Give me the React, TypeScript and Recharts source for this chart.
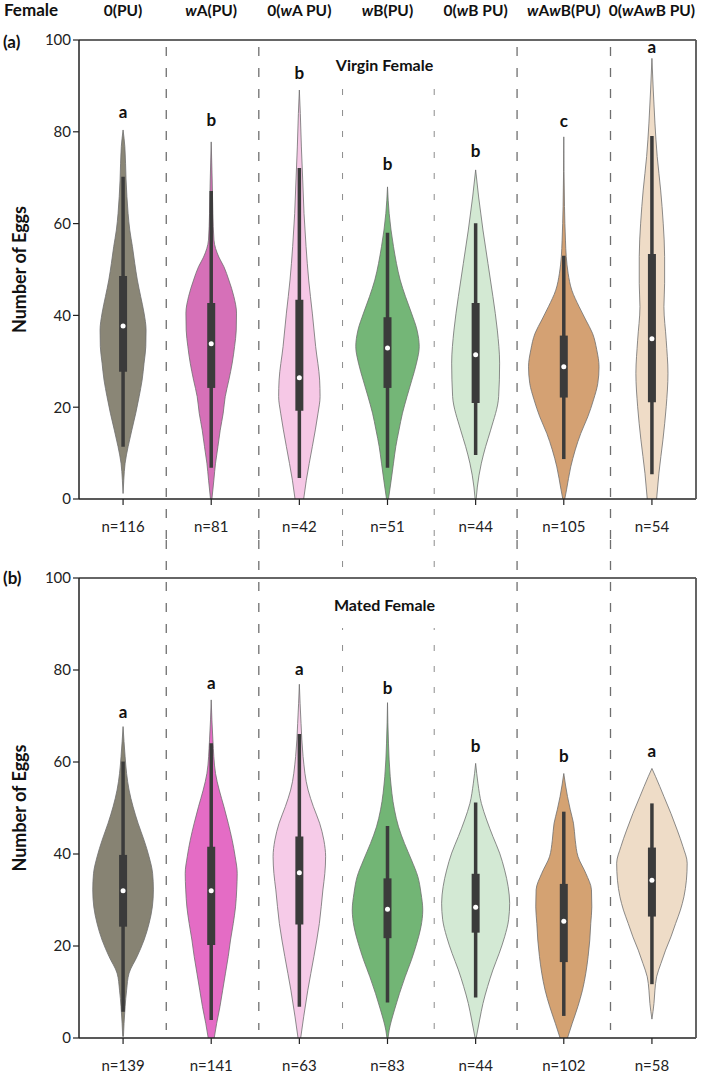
import React from 'react'
import { ComposedChart, Area, Line, Scatter, XAxis, YAxis, ReferenceLine } from 'recharts'

const FONT = 'Lato, "Open Sans", sans-serif'

const groups = ['0(PU)', 'wA(PU)', '0(wA PU)', 'wB(PU)', '0(wB PU)', 'wAwB(PU)', '0(wAwB PU)']
const centers = [0.5, 1.5, 2.5, 3.5, 4.5, 5.5, 6.5]
const yTicks = [0, 20, 40, 60, 80, 100]
const majorDividers = [0.99, 2.04, 4.97, 6.03]
const minorDividers = [2.99, 4.03]

const virginN = [116, 81, 42, 51, 44, 105, 54]
const matedN = [139, 141, 63, 83, 44, 102, 58]

const virginLetters = ['a', 'b', 'b', 'b', 'b', 'c', 'a']
const virginLetterY = [84.5, 82.6, 93, 73, 76, 82.4, 98.5]
const matedLetters = ['a', 'a', 'a', 'b', 'b', 'b', 'a']
const matedLetterY = [70.9, 77.2, 80.4, 76.1, 63.5, 61.5, 62.4]

// [lower whisker, q1, median, q3, upper whisker]
const virginBoxes = [
  [11.4, 27.7, 37.7, 48.6, 70.2],
  [6.8, 24.2, 33.8, 42.7, 67.1],
  [4.6, 19.2, 26.4, 43.4, 72.1],
  [6.8, 24.2, 32.9, 39.6, 58],
  [9.6, 20.9, 31.4, 42.7, 60.1],
  [8.7, 22.1, 28.8, 35.6, 53],
  [5.4, 21.1, 34.9, 53.4, 79.1],
]
const matedBoxes = [
  [5.7, 24.2, 32, 39.8, 60.1],
  [3.9, 20.2, 32, 41.6, 64.1],
  [6.8, 24.7, 35.9, 43.8, 66.1],
  [7.7, 21.7, 28, 34.7, 46.1],
  [8.8, 22.9, 28.4, 35.7, 51.2],
  [4.8, 16.5, 25.4, 33.5, 49.2],
  [11.7, 26.4, 34.3, 41.4, 51],
]

// violin outlines: [eggs, half width in category units]
const virginProfiles: [number, number][][] = [
  [[80.4, 0], [76.8, 0.02], [69.5, 0.034], [62.2, 0.057], [58.6, 0.076], [55, 0.106], [51.3, 0.133], [47.7, 0.162], [44.1, 0.2], [40.5, 0.238], [36.8, 0.261], [33.2, 0.258], [29.6, 0.238], [25.9, 0.216], [22.3, 0.182], [18.7, 0.144], [15, 0.099], [11.4, 0.057], [7.8, 0.023], [4.1, 0.008], [1.2, 0]],
  [[77.8, 0], [69.5, 0.011], [62.2, 0.019], [56.4, 0.031], [52.7, 0.087], [50.6, 0.144], [47.7, 0.2], [44.1, 0.257], [40.5, 0.287], [36.8, 0.284], [33.2, 0.265], [29.6, 0.238], [25.9, 0.2], [22.3, 0.159], [18.7, 0.136], [15, 0.102], [11.4, 0.076], [7.8, 0.049], [4.1, 0.03], [0, 0.008]],
  [[89.1, 0], [84, 0.011], [76.7, 0.023], [69.5, 0.038], [62.2, 0.053], [55, 0.076], [47.7, 0.106], [40.5, 0.147], [33.2, 0.185], [25.9, 0.23], [22.3, 0.235], [18.7, 0.212], [11.4, 0.147], [4.1, 0.079], [0, 0.049]],
  [[68, 0], [62.2, 0.019], [58.6, 0.04], [55, 0.068], [51.3, 0.102], [47.7, 0.144], [44.1, 0.204], [40.5, 0.272], [36.8, 0.335], [33.2, 0.36], [29.6, 0.329], [25.9, 0.276], [22.3, 0.221], [18.7, 0.17], [15, 0.13], [11.4, 0.094], [7.8, 0.068], [4.1, 0.042], [0, 0.011]],
  [[71.7, 0], [65.8, 0.034], [58.6, 0.083], [51.3, 0.14], [44.1, 0.196], [36.8, 0.246], [29.6, 0.272], [22.3, 0.261], [15, 0.17], [11.4, 0.113], [7.8, 0.065], [2.6, 0.019], [0, 0.006]],
  [[78.9, 0], [63.7, 0.008], [56.4, 0.019], [52.8, 0.028], [49.2, 0.049], [45.5, 0.091], [41.9, 0.174], [39, 0.25], [36.1, 0.326], [32.5, 0.374], [28.8, 0.4], [25.2, 0.386], [21.6, 0.337], [17.9, 0.272], [14.3, 0.193], [10.7, 0.13], [7, 0.079], [2, 0.031], [0, 0.011]],
  [[96, 0], [89.1, 0.015], [81.9, 0.034], [74.6, 0.06], [67.3, 0.099], [60.1, 0.128], [52.8, 0.144], [47, 0.144], [41.9, 0.136], [34.6, 0.162], [27.4, 0.182], [20.1, 0.162], [12.9, 0.125], [5.6, 0.079], [0, 0.053]],
]
const matedProfiles: [number, number][][] = [
  [[67.7, 0], [61.2, 0.023], [57.5, 0.04], [53.9, 0.068], [50.3, 0.113], [46.7, 0.17], [43, 0.238], [39.4, 0.295], [35.8, 0.335], [32.2, 0.344], [28.5, 0.332], [24.9, 0.295], [21.3, 0.238], [17.7, 0.159], [14.1, 0.068], [10.4, 0.04], [6.8, 0.023], [3.2, 0.011], [0.3, 0.004]],
  [[73.5, 0], [64.8, 0.019], [57.5, 0.049], [53.9, 0.091], [50.3, 0.144], [46.7, 0.193], [43, 0.238], [39.4, 0.272], [35.8, 0.295], [32.2, 0.289], [28.5, 0.276], [24.9, 0.25], [21.3, 0.219], [17.7, 0.193], [14.1, 0.162], [10.4, 0.13], [6.8, 0.099], [3.2, 0.062], [0, 0.034]],
  [[76.9, 0], [68.4, 0.019], [61.2, 0.042], [53.9, 0.099], [50.3, 0.159], [46.7, 0.23], [43, 0.278], [39.4, 0.298], [35.8, 0.289], [32.2, 0.267], [24.9, 0.227], [17.7, 0.165], [10.4, 0.096], [4.6, 0.049], [0, 0.015]],
  [[72.9, 0], [64.1, 0.011], [56.8, 0.031], [49.6, 0.079], [45.9, 0.125], [42.3, 0.193], [38.7, 0.272], [35.1, 0.344], [31.5, 0.38], [27.8, 0.4], [24.2, 0.38], [20.6, 0.332], [17, 0.272], [13.3, 0.2], [9.7, 0.136], [6.1, 0.079], [1.7, 0.019], [0, 0.006]],
  [[59.7, 0], [55.4, 0.026], [51, 0.065], [47.4, 0.125], [43.8, 0.196], [40.2, 0.272], [36.5, 0.329], [32.9, 0.369], [29.3, 0.386], [25.7, 0.374], [22, 0.329], [18.4, 0.267], [14.8, 0.196], [11.2, 0.136], [7.5, 0.083], [3.9, 0.045], [0, 0.006]],
  [[57.5, 0], [52.5, 0.042], [49.6, 0.074], [46.7, 0.11], [43, 0.13], [39.4, 0.162], [35.8, 0.25], [32.2, 0.314], [28.5, 0.318], [24.9, 0.306], [21.3, 0.295], [17.7, 0.276], [14.1, 0.25], [10.4, 0.212], [6.8, 0.159], [3.2, 0.096], [0, 0.042]],
  [[58.6, 0], [56.8, 0.042], [52.5, 0.136], [48.8, 0.216], [45.2, 0.287], [41.6, 0.352], [38, 0.4], [34.3, 0.391], [30.7, 0.363], [27.8, 0.323], [24.9, 0.269], [22, 0.216], [19.1, 0.155], [16.2, 0.102], [13.3, 0.053], [10.4, 0.034], [7.5, 0.023], [4.1, 0]],
]

const virginColors = ['#8a8676', '#d670b8', '#f6c8e6', '#74b677', '#d3e9d3', '#d4a173', '#efdcc7']
const matedColors = ['#878373', '#e46cc5', '#f6cbe8', '#72b575', '#d3e9d4', '#d4a272', '#eedcc7']

function HeaderTick({ x, y, payload }: any) {
  const label = groups[Math.round(payload.value - 0.5)] || ''
  const parts = label.split(/(w)/).filter((s) => s !== '')
  return (
    <text x={x} y={y} textAnchor="middle" fontFamily={FONT} fontWeight={700} fontSize={15.5} fill="#111">
      {parts.map((s, k) =>
        s === 'w' ? (
          <tspan key={k} fontStyle="italic">w</tspan>
        ) : (
          <tspan key={k}>{s}</tspan>
        )
      )}
    </text>
  )
}

type PanelProps = {
  profiles: [number, number][][]
  boxes: number[][]
  nLabels: number[]
  letters: string[]
  letterY: number[]
  colors: string[]
  header: boolean
}

function ViolinPanel({ profiles, boxes, nLabels, letters, letterY, colors, header }: PanelProps) {
  const height = header ? 545 : 536
  const topH = header ? 40 : 38
  const bottomH = header ? 46 : 38
  const violins = profiles.map((p, i) =>
    [...p]
      .sort((a, b) => b[0] - a[0])
      .map(([v, w]) => ({ v, range: [centers[i] - w, centers[i] + w] }))
  )
  const whiskers = boxes.map((b, i) => [
    { x: centers[i], v: b[4] },
    { x: centers[i], v: b[0] },
  ])
  const iqr = boxes.map((b, i) => [
    { x: centers[i], v: b[3] },
    { x: centers[i], v: b[1] },
  ])
  const medians = boxes.map((b, i) => ({ x: centers[i], v: b[2] }))
  const letterData = letters.map((l, i) => ({ x: centers[i], v: letterY[i], label: l }))

  const dividerShape = (color: string, dash: string, width: number) => (p: any) => {
    const top = Math.min(p.y1, p.y2)
    const bottom = Math.max(p.y1, p.y2)
    const y1 = header ? top + 7 : top - topH
    const y2 = header ? bottom + bottomH : bottom - 8
    return <line x1={p.x1} x2={p.x2} y1={y1} y2={y2} stroke={color} strokeWidth={width} strokeDasharray={dash} />
  }

  return (
    <ComposedChart
      width={709}
      height={height}
      layout="vertical"
      margin={{ top: 0, right: 0, bottom: 0, left: 0 }}
    >
      <XAxis
        xAxisId="top"
        orientation="top"
        type="number"
        domain={[0, 7]}
        allowDataOverflow
        ticks={centers}
        height={topH}
        tickSize={0}
        tickMargin={24}
        tickLine={false}
        tick={header ? <HeaderTick /> : false}
        axisLine={{ stroke: '#333', strokeWidth: 1.5 }}
      />
      <XAxis
        type="number"
        dataKey="x"
        domain={[0, 7]}
        allowDataOverflow
        ticks={centers}
        height={bottomH}
        tickSize={6}
        tickMargin={16}
        tickFormatter={(value: number) => `n=${nLabels[Math.round(value - 0.5)]}`}
        tick={{ fill: '#222', fontSize: 15, fontFamily: FONT }}
        tickLine={{ stroke: '#222', strokeWidth: 1.2 }}
        axisLine={{ stroke: '#222', strokeWidth: 1.5 }}
      />
      <YAxis
        type="number"
        dataKey="v"
        domain={[0, 100]}
        allowDataOverflow
        reversed
        ticks={yTicks}
        width={79}
        tickSize={6}
        tickMargin={2}
        tick={{ fill: '#222', fontSize: 15, fontFamily: FONT }}
        tickLine={{ stroke: '#222', strokeWidth: 1.2 }}
        axisLine={{ stroke: '#222', strokeWidth: 1.5 }}
        label={{
          value: 'Number of Eggs',
          angle: -90,
          position: 'insideLeft',
          offset: 20,
          style: { textAnchor: 'middle', fontWeight: 700, fontSize: 18, fill: '#111', fontFamily: FONT },
        }}
      />
      <YAxis
        yAxisId="right"
        orientation="right"
        type="number"
        domain={[0, 100]}
        width={13}
        tick={false}
        tickLine={false}
        axisLine={{ stroke: '#555', strokeWidth: 1.8 }}
      />
      {majorDividers.map((d) => (
        <ReferenceLine key={'M' + d} x={d} shape={dividerShape('#6f6f6f', '9 12', 1.3)} />
      ))}
      {minorDividers.map((d) => (
        <ReferenceLine key={'m' + d} x={d} shape={dividerShape('#8c8c8c', '6 15', 1)} />
      ))}
      {violins.map((data, i) => (
        <Area
          key={'v' + i}
          data={data}
          dataKey="range"
          type="monotone"
          fill={colors[i]}
          fillOpacity={1}
          stroke="#6e6e6e"
          strokeWidth={0.8}
          dot={false}
          activeDot={false}
          isAnimationActive={false}
        />
      ))}
      {whiskers.map((data, i) => (
        <Line
          key={'w' + i}
          data={data}
          dataKey="x"
          stroke="#3b3b3b"
          strokeWidth={3.5}
          dot={false}
          activeDot={false}
          isAnimationActive={false}
        />
      ))}
      {iqr.map((data, i) => (
        <Line
          key={'q' + i}
          data={data}
          dataKey="x"
          stroke="#3b3b3b"
          strokeWidth={8}
          dot={false}
          activeDot={false}
          isAnimationActive={false}
        />
      ))}
      <Scatter
        data={medians}
        isAnimationActive={false}
        shape={(p: any) => <circle cx={p.cx} cy={p.cy} r={2.5} fill="#ffffff" />}
      />
      <Scatter
        data={letterData}
        isAnimationActive={false}
        shape={(p: any) => (
          <text
            x={p.cx}
            y={p.cy}
            textAnchor="middle"
            dominantBaseline="central"
            fontFamily={FONT}
            fontWeight={700}
            fontSize={17}
            fill="#111"
          >
            {p.payload.label}
          </text>
        )}
      />
    </ComposedChart>
  )
}

const boldText: React.CSSProperties = {
  position: 'absolute',
  fontFamily: FONT,
  fontWeight: 700,
  fontSize: 17,
  lineHeight: '20px',
  color: '#111',
  whiteSpace: 'nowrap',
}

const titleBox: React.CSSProperties = {
  position: 'absolute',
  left: 322,
  width: 125,
  background: '#fff',
  display: 'flex',
  alignItems: 'center',
  justifyContent: 'center',
  fontFamily: FONT,
  fontWeight: 700,
  fontSize: 16,
  color: '#111',
  whiteSpace: 'nowrap',
}

export default function App() {
  return (
    <div style={{ position: 'absolute', left: 0, top: 0, width: 709, height: 1076, background: '#fff', overflow: 'hidden' }}>
      <div style={{ position: 'absolute', left: 0, top: 0 }}>
        <ViolinPanel
          profiles={virginProfiles}
          boxes={virginBoxes}
          nLabels={virginN}
          letters={virginLetters}
          letterY={virginLetterY}
          colors={virginColors}
          header
        />
      </div>
      <div style={{ position: 'absolute', left: 0, top: 540 }}>
        <ViolinPanel
          profiles={matedProfiles}
          boxes={matedBoxes}
          nLabels={matedN}
          letters={matedLetters}
          letterY={matedLetterY}
          colors={matedColors}
          header={false}
        />
      </div>
      <div style={{ ...boldText, left: 4, top: 0 }}>Female</div>
      <div style={{ ...boldText, left: 3, top: 32 }}>(a)</div>
      <div style={{ ...boldText, left: 3, top: 568 }}>(b)</div>
      <div style={{ ...titleBox, top: 42, height: 45 }}>Virgin Female</div>
      <div style={{ ...titleBox, top: 580, height: 48 }}>Mated Female</div>
    </div>
  )
}
